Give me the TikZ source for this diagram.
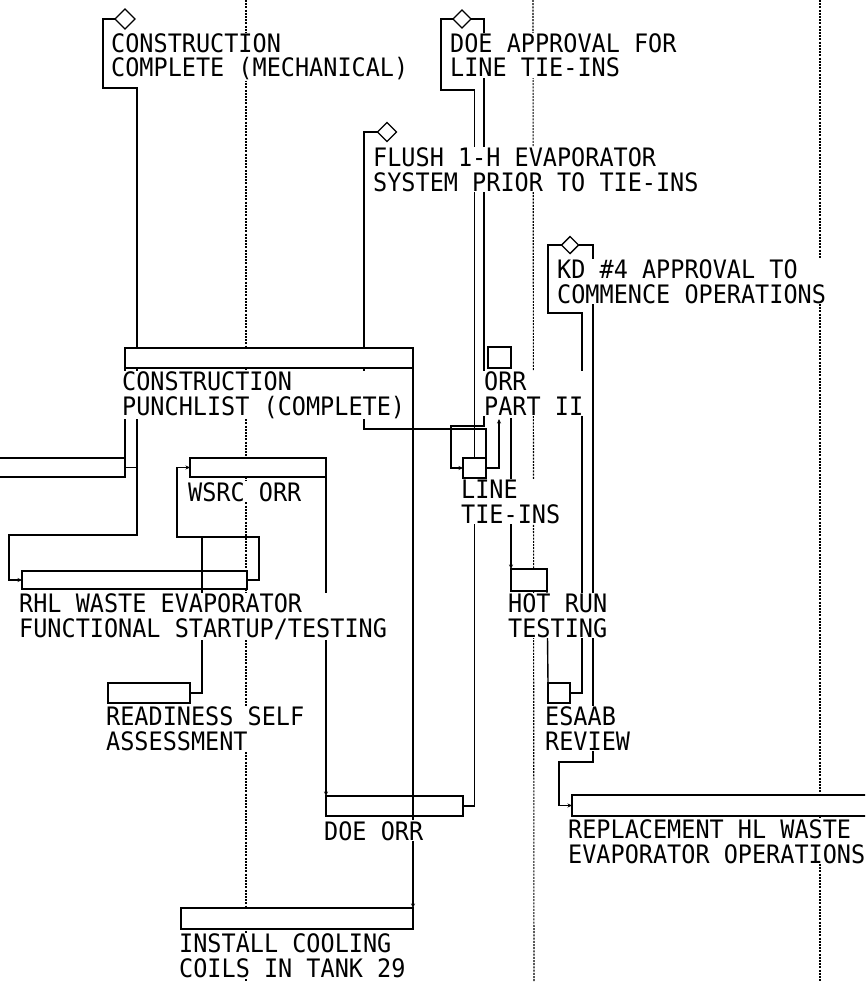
\documentclass[tikz,border=0pt]{standalone}
\usepackage{fontspec}
\newfontfamily\plotfont[FakeStretch=0.925]{DejaVu Sans Mono}
\usetikzlibrary{shapes.geometric,arrows.meta}
\begin{document}
\begin{tikzpicture}[x=1pt,y=-1pt,
  taskbar/.style={draw, fill=white, line width=1.6pt, inner sep=0pt, outer sep=0pt, anchor=north west},
  mstone/.style={draw, fill=white, diamond, line width=1.4pt, inner sep=0pt, outer sep=0pt, minimum width=#1, minimum height=#1},
  plabel/.style={font=\plotfont\fontsize{25.4}{24.4}\selectfont, align=left, fill=white, inner sep=1pt, anchor=base west},
  conn/.style={line width=1.4pt},
  conna/.style={conn, -{Stealth[length=4.5pt,width=4pt]}},
  vgrid/.style={line width=1.1pt, dash pattern=on 2pt off 1.2pt},
]
\useasboundingbox (0,0) rectangle (865,982);
\clip (0,0) rectangle (865,982);
\fill[white] (0,0) rectangle (865,982);

% dotted time lines
\draw[vgrid] (246,0) -- (246,982);
\draw[vgrid] (533,0) -- (534,982);
\draw[vgrid] (820,0) -- (820,982);

% coordinates for free ends
\coordinate (orrin) at (499,419);
\coordinate (orrout) at (511,418);

% milestones
\node[mstone=20pt] (mcc) at (125,19) {};
\node[mstone=18pt] (mdoe) at (462,19) {};
\node[mstone=19pt] (mflush) at (387,132) {};
\node[mstone=17pt] (mkd) at (570,245) {};

% connectors (drawn before bars so bars and labels cover them)
\draw[conna] (mcc.west) -- (103,19) -- (103,88) -- (137,88) -- (137,535) -- (9,535) -- (9,580) -- (22,580);
\draw[conn] (mflush.west) -- (364,132) -- (364,429) -- (486,429) -- (486,458);
\draw[conn] (mdoe.west) -- (441,19) -- (441,90) -- (474.5,90) -- (474.5,458);
\draw[conna] (mdoe.east) -- (484,19) -- (484,426) -- (451,426) -- (451,468) -- (463,468);
\draw[conn] (mkd.west) -- (548,245) -- (548,313) -- (582,313) -- (582,693) -- (570,693);
\draw[conna] (mkd.east) -- (593,245) -- (593,762) -- (559,762) -- (559,805.5) -- (572,805.5);

% task bars
\node[taskbar, minimum width=155pt, minimum height=19pt] (prev) at (-30,458) {};
\node[taskbar, minimum width=288pt, minimum height=20pt] (punch) at (125,348) {};
\node[taskbar, minimum width=136pt, minimum height=19pt] (wsrc) at (190,458) {};
\node[taskbar, minimum width=225pt, minimum height=18pt] (rhl) at (22,571) {};
\node[taskbar, minimum width=82pt, minimum height=20pt] (ready) at (108,683) {};
\node[taskbar, minimum width=137pt, minimum height=20pt] (doeorr) at (326,796) {};
\node[taskbar, minimum width=232pt, minimum height=21pt] (cool) at (181,908) {};
\node[taskbar, minimum width=23pt, minimum height=21pt] (orr2) at (488,347) {};
\node[taskbar, minimum width=23pt, minimum height=20pt] (tie) at (463,458) {};
\node[taskbar, minimum width=36pt, minimum height=22pt] (hot) at (511,569) {};
\node[taskbar, minimum width=22pt, minimum height=20pt] (esaab) at (548,683) {};
\node[taskbar, minimum width=330pt, minimum height=21pt] (repl) at (572,795) {};

% connectors between bars
\draw[conn] (prev.east) -- (137,467.5);
\draw[conn] (prev.north east) -- (punch.south west);
\draw[conna] (tie.east) -- (499,468) -- (orrin);
\draw[conna] (orrout) -- (hot.north west);
\draw[conn] (hot.south east) -- (esaab.north west);
\draw[conn] (tie.south) -- (474.5,806) -- (doeorr.east);
\draw[conna] (wsrc.south east) -- (doeorr.north west);
\draw[conna] (punch.south east) -- (cool.north east);
\draw[conna] (rhl.east) -- (259,580) -- (259,537) -- (177,537) -- (177,467.5) -- (wsrc.west);
\draw[conn] (ready.east) -- (202,693) -- (202,537);

% labels (base anchor = baseline of the last line)
\node[plabel] (tcc) at (110,77) {CONSTRUCTION\\COMPLETE (MECHANICAL)};
\node[plabel] (tdoe) at (449,77) {DOE APPROVAL FOR\\LINE TIE-INS};
\node[plabel] (tflush) at (372,191) {FLUSH 1-H EVAPORATOR\\SYSTEM PRIOR TO TIE-INS};
\node[plabel] (tkd) at (556,303) {KD \#4 APPROVAL TO\\COMMENCE OPERATIONS};
\node[plabel] (tpunch) at (121,415) {CONSTRUCTION\\PUNCHLIST (COMPLETE)};
\node[plabel] (torr) at (483,415) {ORR\\PART II};
\node[plabel] (twsrc) at (187,501) {WSRC ORR};
\node[plabel] (ttie) at (460,523) {LINE\\TIE-INS};
\node[plabel] (trhl) at (18,637) {RHL WASTE EVAPORATOR\\FUNCTIONAL STARTUP/TESTING};
\node[plabel] (thot) at (507,637) {HOT RUN\\TESTING};
\node[plabel] (tready) at (105,750) {READINESS SELF\\ASSESSMENT};
\node[plabel] (tesaab) at (544,750) {ESAAB\\REVIEW};
\node[plabel] (tdoeorr) at (323,840) {DOE ORR};
\node[plabel] (trepl) at (567,863) {REPLACEMENT HL WASTE\\EVAPORATOR OPERATIONS};
\node[plabel] (tcool) at (178,977) {INSTALL COOLING\\COILS IN TANK 29};
\end{tikzpicture}
\end{document}
